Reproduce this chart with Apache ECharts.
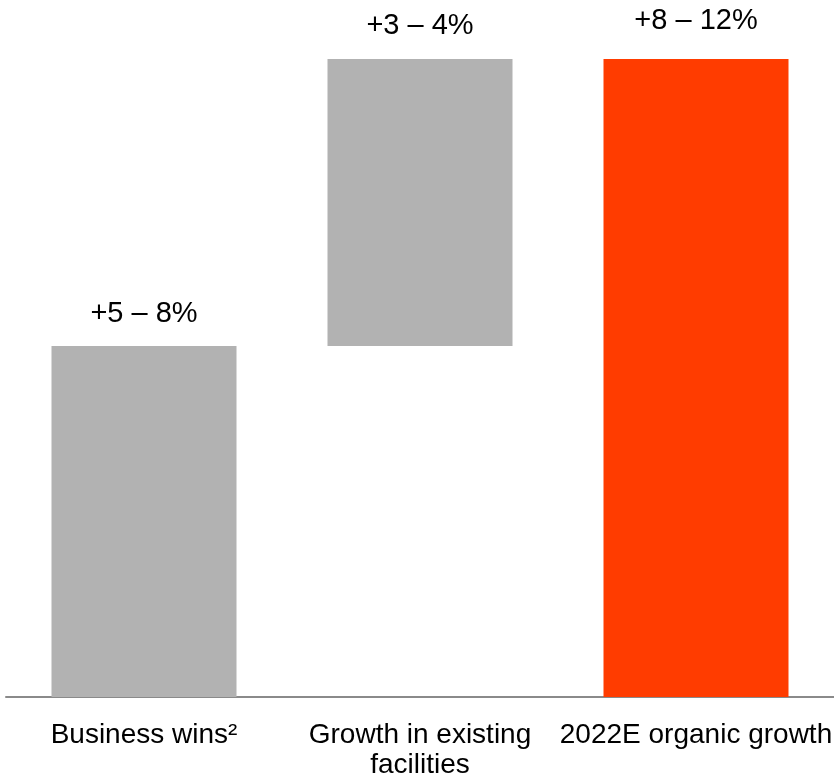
<!DOCTYPE html>
<html><head><meta charset="utf-8">
<script src="https://cdn.jsdelivr.net/npm/echarts@6/dist/echarts.min.js"></script>
<style>html,body{margin:0;padding:0;background:#fff}#c{width:834px;height:774px}</style>
</head><body><div id="c"></div>
<script>
const categories = ['Business wins²', 'Growth in existing\nfacilities', '2022E organic growth'];
const baseValues = [0, 5.5, 0];
const barValues = [5.5, 4.5, 10];
const valueLabels = ['+5 – 8%', '+3 – 4%', '+8 – 12%'];
const barColors = ['#b2b2b2', '#b2b2b2', '#ff3c00'];
const labelDistances = [18, 19, 24];

const chart = echarts.init(document.getElementById('c'));
chart.setOption({
  animation: false,
  grid: {left: 6, right: 0, top: 59, bottom: 77, containLabel: false, outerBoundsMode: 'none'},
  xAxis: {
    type: 'category', data: categories,
    axisLine: {show: true, lineStyle: {color: '#8a8a8a', width: 2}},
    axisTick: {show: false},
    axisLabel: {color: '#000', fontSize: 28, fontFamily: 'Liberation Sans, Arial', lineHeight: 30, margin: 23, interval: 0}
  },
  yAxis: {type: 'value', min: 0, max: 10, show: false, splitLine: {show: false}},
  series: [
    {type: 'bar', stack: 'w', data: baseValues, itemStyle: {color: 'transparent'}, barWidth: 185, silent: true},
    {type: 'bar', stack: 'w', barWidth: 185,
     data: barValues.map((v, i) => ({
       value: v,
       itemStyle: {color: barColors[i]},
       label: {show: true, position: 'top', distance: labelDistances[i], formatter: valueLabels[i],
               color: '#000', fontSize: 29, fontFamily: 'Liberation Sans, Arial'}
     }))}
  ]
});
</script></body></html>
